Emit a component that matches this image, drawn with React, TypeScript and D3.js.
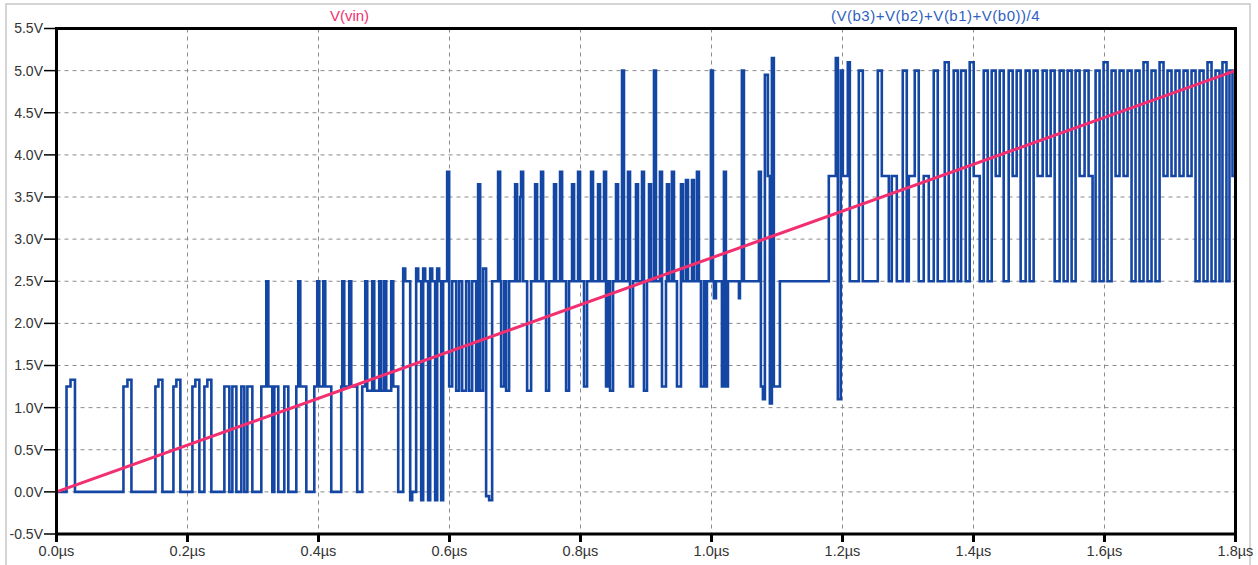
import React from 'react';
import * as d3 from 'd3';

const W = 1258;
const H = 565;

// axis ticks
const xTickValues = [0, 0.2, 0.4, 0.6, 0.8, 1.0, 1.2, 1.4, 1.6, 1.8];
const yTickValues = [-0.5, 0, 0.5, 1.0, 1.5, 2.0, 2.5, 3.0, 3.5, 4.0, 4.5, 5.0, 5.5];

// V(vin): ramp, time in µs, volts
const vinTimeUs = [0, 1.8];
const vinVolts = [0, 5];

// (V(b3)+V(b2)+V(b1)+V(b0))/4 : step breakpoints [time ns, volts]
const bitsSegA: [number, number][] = [
  [0, 0], [15.3, 1.25], [21.4, 1.33], [28.2, 0],
  [102.2, 1.25], [108.3, 1.33], [114.4, 0],
  [151.0, 1.25], [155.6, 1.33], [161.7, 0],
  [178.5, 1.25], [183.0, 1.33], [189.1, 0],
  [207.5, 1.25], [212.0, 1.33], [218.1, 0],
];
const bitsSegB: [number, number][] = [
  [225.8, 1.25], [230.3, 1.33], [236.4, 0],
  [256.3, 1.25], [263.9, 0], [268.5, 1.25], [274.6, 0],
  [282.2, 1.25], [286.8, 0], [291.4, 1.25], [299.0, 0],
  [312.7, 1.25], [320.3, 2.5], [323.4, 1.25], [329.5, 0], [332.5, 1.25], [338.6, 0],
  [347.8, 1.25], [353.9, 0],
  [366.1, 1.25], [369.1, 2.5], [372.2, 1.25], [381.4, 0],
  [393.6, 1.25], [398.1, 2.5], [401.2, 1.25], [407.3, 2.5], [410.3, 1.25], [419.5, 0],
  [434.7, 1.25], [436.3, 2.5], [439.3, 1.25], [446.9, 2.5], [450.0, 1.25], [459.1, 0],
];
const bitsSegC: [number, number][] = [
  [466.8, 1.25], [471.4, 2.5], [474.4, 1.2], [482.0, 2.5], [485.1, 1.2], [492.7, 2.5],
  [495.8, 1.2], [500.3, 2.5], [503.4, 1.2], [511.0, 2.5], [514.1, 1.25], [521.7, 0],
  [529.3, 2.65], [532.4, 2.5], [540.0, -0.1], [543.0, 0],
  [549.1, 2.65], [552.2, 2.5], [556.8, -0.1], [559.8, 2.65], [562.9, 2.5], [567.4, -0.1],
  [570.5, 2.65], [573.6, 2.5], [578.1, -0.1], [581.2, 2.65], [584.2, 2.5], [587.3, -0.1],
  [590.3, 2.5], [596.4, 3.8], [599.5, 1.25],
  [604.1, 2.5], [610.2, 1.2], [614.7, 2.5], [619.3, 1.2], [625.4, 2.5], [630.0, 1.2],
  [634.6, 2.5], [640.7, 1.2], [643.7, 3.65], [646.8, 1.2], [651.3, 2.65], [655.9, -0.05],
  [660.5, -0.1], [665.1, 2.5],
];
const bitsSegD: [number, number][] = [
  [674.2, 3.8], [677.3, 2.5], [678.8, 1.25], [683.4, 2.5], [686.4, 1.2], [691.0, 2.5],
  [700.2, 3.65], [703.2, 2.5], [707.8, 3.5], [709.3, 3.8], [712.4, 2.5], [718.5, 1.2],
  [724.6, 2.5], [730.7, 3.65], [733.7, 2.5], [739.8, 3.8], [742.9, 2.5], [747.4, 1.2],
  [752.0, 2.5], [759.6, 3.65], [762.7, 2.5], [768.8, 3.8], [771.9, 2.5], [778.0, 1.2],
  [782.5, 2.5], [787.1, 3.65], [790.2, 2.5], [796.3, 3.8], [799.3, 2.5], [805.4, 1.25],
  [810.0, 2.5], [816.1, 3.8], [819.1, 2.5], [826.8, 3.65], [829.8, 2.5], [835.9, 3.8],
  [839.0, 1.25], [842.0, 2.5], [845.1, 1.2], [849.7, 2.5], [854.2, 3.65], [857.3, 2.5],
  [863.4, 5.0], [866.4, 2.5], [872.5, 3.8], [875.6, 1.25], [880.2, 2.5], [884.7, 3.65],
  [887.8, 2.5], [893.9, 3.8], [896.9, 1.2], [901.5, 2.5], [904.6, 3.65], [907.6, 2.5],
  [912.2, 5.0], [915.2, 2.5], [921.3, 3.8], [924.4, 1.25], [930.5, 2.5], [932.0, 3.65],
  [935.1, 2.5], [939.6, 3.8], [942.7, 2.5], [947.3, 1.25], [953.4, 3.65], [956.4, 2.5],
  [961.0, 3.7], [964.1, 2.5], [970.2, 3.7], [973.2, 2.5], [977.8, 3.8], [980.8, 2.5],
  [983.9, 1.25], [988.5, 2.5], [990.0, 1.25], [993.0, 2.5],
];
const bitsSegE: [number, number][] = [
  [999.1, 5.0], [1002.2, 2.5], [1003.7, 2.3], [1006.8, 2.5], [1015.9, 1.25], [1019.0, 3.8],
  [1022.0, 1.25], [1025.1, 2.5], [1041.9, 2.3], [1043.4, 2.5], [1046.4, 5.0], [1049.5, 2.5],
  [1072.4, 3.8], [1075.4, 1.25], [1078.5, 1.1], [1081.5, 4.95], [1086.1, 3.75], [1089.1, 1.05],
  [1092.2, 5.15], [1095.2, 1.25], [1104.4, 2.5],
  [1179.1, 3.75], [1189.8, 5.15], [1192.9, 1.1], [1197.4, 5.0], [1200.5, 3.75], [1208.1, 5.1],
  [1211.2, 2.5],
];
const bitsSegF: [number, number][] = [
  [1224.9, 5.0], [1231.0, 2.5], [1253.9, 5.0], [1260.0, 3.75], [1270.7, 2.5], [1275.2, 3.75],
  [1282.9, 2.5], [1292.0, 5.0], [1298.1, 2.5], [1301.2, 3.75], [1310.3, 5.0], [1316.4, 2.5],
  [1324.0, 3.75], [1331.7, 2.5], [1339.3, 5.0], [1345.4, 2.5], [1356.1, 5.1], [1362.2, 2.5],
  [1369.8, 5.0], [1375.9, 2.5], [1381.0, 5.0], [1388.1, 2.5], [1394.2, 5.1], [1400.3, 3.75],
  [1409.5, 2.5], [1415.6, 5.0], [1421.7, 2.5], [1427.8, 5.0], [1433.9, 3.75], [1440.0, 5.0],
  [1446.1, 2.5], [1453.7, 5.0], [1459.8, 3.75], [1465.9, 5.0], [1472.0, 2.5], [1479.6, 5.0],
  [1485.7, 2.5], [1491.8, 5.0], [1497.9, 3.75], [1505.6, 5.0], [1511.7, 3.75], [1517.8, 5.0],
  [1523.9, 2.5],
];
const bitsSegG: [number, number][] = [
  [1531.5, 5.0], [1537.6, 2.5], [1543.7, 5.0], [1549.8, 2.5], [1555.9, 5.0], [1562.0, 3.75],
  [1569.6, 5.0], [1575.7, 3.75], [1581.8, 2.5], [1586.4, 5.0], [1592.5, 2.5], [1598.6, 5.1],
  [1604.7, 2.5], [1610.8, 5.0], [1616.9, 3.75], [1623.0, 5.0], [1629.1, 3.75], [1635.2, 5.0],
  [1641.3, 2.5], [1647.4, 5.0], [1653.5, 2.5], [1659.6, 5.1], [1665.7, 2.5], [1671.8, 5.0],
  [1677.9, 2.5], [1684.1, 5.1], [1690.1, 3.75], [1696.2, 5.0], [1702.3, 3.75], [1708.4, 5.0],
  [1714.5, 3.75], [1720.7, 5.0], [1726.8, 3.75], [1732.9, 5.0], [1739.0, 2.5], [1745.1, 5.0],
  [1751.2, 2.5], [1757.3, 5.1], [1763.4, 2.5], [1769.5, 5.0], [1775.6, 2.5], [1780.1, 5.1],
  [1786.2, 2.5], [1790.8, 5.0], [1795.4, 3.75], [1800, 3.75],
];

const PLOT = { left: 56.5, right: 1235.5, top: 28.5, bottom: 534 };
const FONT = '"Liberation Sans", Arial, sans-serif';
const RED = '#f2306f';
const BLUE = '#1446a4';

export default function App() {
  const x = d3.scaleLinear().domain([0, 1.8]).range([PLOT.left, PLOT.right]);
  const y = d3.scaleLinear().domain([-0.5, 5.5]).range([PLOT.bottom, PLOT.top]);

  const bits = [
    ...bitsSegA, ...bitsSegB, ...bitsSegC, ...bitsSegD,
    ...bitsSegE, ...bitsSegF, ...bitsSegG,
  ];
  const stepLine = d3
    .line<[number, number]>()
    .x((d) => x(d[0] / 1000))
    .y((d) => y(d[1]))
    .curve(d3.curveStepAfter);
  const vinLine = d3
    .line<number>()
    .x((_, i) => x(vinTimeUs[i]))
    .y((d) => y(d));

  const fmtY = (v: number) => `${v.toFixed(1)}V`;
  const fmtX = (v: number) => `${v.toFixed(1)}µs`;

  return (
    <svg
      width={W}
      height={H}
      style={{ position: 'absolute', left: 0, top: 0, background: '#fff' }}
      fontFamily={FONT}
    >
      <rect x={0} y={0} width={W} height={H} fill="#fff" />
      <rect x={6} y={4} width={1244} height={570} fill="none" stroke="#c8c8c8" strokeWidth={1.5} />
      <defs>
        <clipPath id="plotclip">
          <rect x={PLOT.left} y={PLOT.top - 6} width={PLOT.right - PLOT.left} height={PLOT.bottom - PLOT.top + 12} />
        </clipPath>
      </defs>

      {/* grid */}
      <g stroke="#8a8a8a" strokeWidth={1} strokeDasharray="4,4">
        {yTickValues.slice(1, -1).map((v) => (
          <line key={'gy' + v} x1={PLOT.left} x2={PLOT.right} y1={y(v)} y2={y(v)} />
        ))}
        {xTickValues.slice(1, -1).map((v) => (
          <line key={'gx' + v} x1={x(v)} x2={x(v)} y1={PLOT.top} y2={PLOT.bottom} />
        ))}
      </g>

      <g clipPath="url(#plotclip)">
        <path d={stepLine(bits) || ''} fill="none" stroke={BLUE} strokeWidth={2.6} />
        <path d={vinLine(vinVolts) || ''} fill="none" stroke={RED} strokeWidth={3} />
      </g>

      {/* frame */}
      <rect
        x={PLOT.left}
        y={PLOT.top}
        width={PLOT.right - PLOT.left}
        height={PLOT.bottom - PLOT.top}
        fill="none"
        stroke="#000"
        strokeWidth={3}
      />

      {/* y ticks & labels */}
      {yTickValues.map((v) => (
        <g key={'yt' + v}>
          <line x1={44} x2={PLOT.left} y1={y(v)} y2={y(v)} stroke="#000" strokeWidth={1.5} />
          <text x={43} y={y(v)} dy="0.35em" textAnchor="end" fontSize={14} fill="#333">
            {fmtY(v)}
          </text>
        </g>
      ))}

      {/* x ticks & labels */}
      {xTickValues.map((v) => (
        <g key={'xt' + v}>
          <line x1={x(v)} x2={x(v)} y1={PLOT.bottom} y2={PLOT.bottom + 8} stroke="#000" strokeWidth={3} />
          <text x={x(v)} y={556} textAnchor="middle" fontSize={14.5} fill="#333">
            {fmtX(v)}
          </text>
        </g>
      ))}

      {/* trace titles */}
      <text x={349.5} y={21} textAnchor="middle" fontSize={15} fill={RED}>
        V(vin)
      </text>
      <text x={935.5} y={21} textAnchor="middle" fontSize={15} letterSpacing={0.5} fill="#2f5fbf">
        (V(b3)+V(b2)+V(b1)+V(b0))/4
      </text>
    </svg>
  );
}
